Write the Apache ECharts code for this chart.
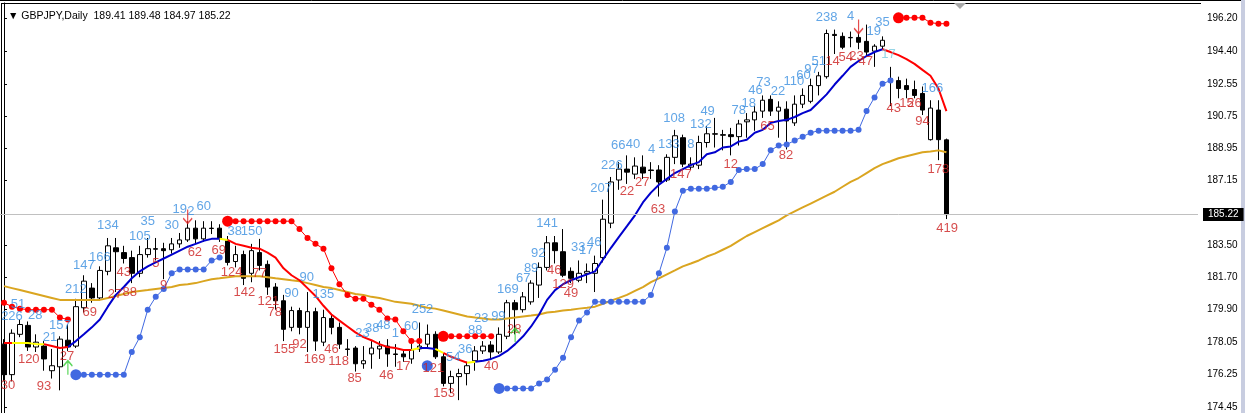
<!DOCTYPE html>
<html>
<head>
<meta charset="utf-8">
<script src="https://cdn.jsdelivr.net/npm/echarts@6/dist/echarts.min.js"></script>
<style>
html,body{margin:0;padding:0;background:#fff;}
#chart{width:1245px;height:413px;}
</style>
</head>
<body>
<div id="chart"></div>
<script>
var symbolName = 'GBPJPY,Daily';
var lastBar = [189.41, 189.48, 184.97, 185.22]; // O H L C of the last bar
var bidPrice = 185.22;
var slotCount = 150; // bar slots visible in the window
var priceTicks = [196.20, 194.40, 192.55, 190.75, 188.95, 187.15, 183.50, 181.70, 179.90, 178.05, 176.25, 174.45];

// open, close, low, high
var ohlc = [
  [177.96,176.25,175.87,178.24],[176.25,178.57,175.87,178.79],[178.51,179.06,178.35,179.34],[179.01,177.80,177.58,179.23],
  [177.80,178.07,177.52,178.51],[177.85,177.13,176.47,178.13],[176.47,176.75,176.03,177.69],[176.69,178.24,175.37,178.40],
  [178.18,177.80,177.58,179.06],[177.85,180.06,177.74,180.50],[180.00,181.49,179.73,181.82],[181.10,180.55,180.28,181.38],
  [180.55,182.09,180.39,182.32],[182.04,183.47,181.82,183.91],[183.36,183.14,180.88,183.91],[183.09,182.76,182.48,183.47],
  [182.81,181.93,181.38,183.20],[181.93,182.98,181.71,183.47],[182.98,183.31,182.81,183.91],[183.31,183.28,182.65,183.91],
  [183.31,183.20,181.60,183.64],[183.25,183.58,183.03,183.91],[183.58,183.80,183.36,184.19],[183.80,184.46,183.69,184.85],
  [184.46,183.86,183.58,184.90],[183.86,184.46,183.69,184.85],[184.46,184.44,184.13,184.85],[184.46,183.91,183.69,184.68],
  [183.75,182.54,182.37,184.02],[182.59,182.98,182.26,183.47],[182.98,181.65,181.27,183.20],[181.93,183.20,181.43,183.58],
  [183.09,182.37,182.09,183.86],[182.43,181.16,180.72,182.65],[181.16,180.39,179.89,181.38],[180.39,178.79,178.13,180.72],
  [178.90,179.84,178.68,180.06],[179.84,178.90,178.51,180.00],[178.90,179.78,177.52,180.88],[179.78,178.13,177.58,180.00],
  [178.07,179.45,177.85,179.89],[179.40,178.90,178.51,179.62],[178.90,177.96,177.69,179.17],[177.69,177.66,177.30,178.24],
  [177.74,176.86,176.42,177.85],[176.86,177.03,176.58,177.85],[177.41,177.74,176.58,178.13],[177.69,177.85,177.13,178.13],
  [177.85,177.41,176.69,178.24],[177.41,177.38,176.69,177.96],[177.41,177.25,176.97,177.58],[177.13,177.63,176.86,178.07],
  [177.69,177.85,177.52,179.17],[177.96,178.51,177.80,179.06],[178.51,177.25,177.13,178.68],[177.25,175.76,175.59,177.41],
  [175.76,176.14,175.21,176.47],[176.14,176.31,174.82,176.58],[176.31,176.75,175.65,176.97],[177.03,177.58,176.47,177.85],
  [177.58,177.85,177.41,178.13],[177.91,177.52,177.13,178.13],[177.52,178.51,177.41,178.90],[178.40,180.28,178.24,180.44],
  [180.28,179.89,178.51,180.44],[179.89,180.61,179.73,180.88],[180.33,181.38,180.17,181.54],[181.27,182.26,180.55,182.54],
  [182.26,183.64,182.09,184.02],[183.64,183.20,182.48,184.02],[183.14,181.82,181.71,184.41],[182.04,181.65,181.38,182.26],
  [181.54,181.93,181.43,182.65],[181.93,182.04,181.38,182.48],[181.93,182.48,180.88,182.92],[182.81,184.96,182.54,186.06],
  [184.74,187.05,184.46,187.33],[187.16,187.77,186.61,188.16],[187.77,187.60,186.94,188.54],[187.49,187.94,187.22,188.43],
  [187.88,187.55,187.22,188.54],[187.72,187.69,187.22,188.16],[187.72,187.05,186.23,187.99],[187.16,188.43,187.05,188.60],
  [188.43,189.64,188.05,189.97],[189.53,188.05,187.88,189.70],[187.88,188.05,187.72,188.43],[187.99,189.26,187.77,189.64],
  [189.26,189.75,188.98,190.19],[189.75,189.73,188.98,190.64],[189.70,189.67,188.82,189.97],[189.70,189.59,188.54,190.08],
  [189.59,190.30,189.09,190.53],[190.42,190.53,189.53,190.91],[190.53,190.97,189.92,191.30],[191.02,191.63,190.64,191.90],
  [191.68,191.02,190.75,191.90],[191.02,191.24,189.53,191.57],[191.13,190.47,188.87,191.57],[190.36,191.41,190.19,191.90],
  [191.41,191.90,191.19,192.29],[191.57,192.45,191.46,192.84],[192.45,193.00,191.90,193.22],[192.95,195.37,192.84,195.59],
  [195.32,195.26,194.22,195.59],[195.21,194.60,194.49,195.43],[195.15,195.13,194.60,195.48],[195.15,194.88,194.49,195.43],
  [194.93,194.33,194.05,195.87],[194.38,194.66,193.50,194.77],[194.66,194.99,194.49,195.21],[192.67,192.84,191.30,193.50],
  [192.73,192.29,191.74,192.95],[192.45,192.23,191.74,192.84],[192.23,191.90,191.74,192.73],[192.01,191.08,190.80,192.40],
  [189.42,191.19,189.37,191.63],[191.08,189.42,188.27,191.63],[189.41,185.22,184.97,189.48]
];

// fast coloured average
var hma = [
  178.02,178.02,178.02,178.02,177.96,177.96,177.85,177.74,177.80,178.13,
  178.51,178.90,179.34,180.06,180.72,181.16,181.65,182.04,182.32,182.54,
  182.76,182.98,183.20,183.42,183.58,183.75,183.86,183.86,183.80,183.58,
  183.47,183.36,183.31,183.09,182.81,182.21,181.82,181.54,181.10,180.66,
  180.11,179.62,179.28,178.95,178.62,178.35,178.18,177.96,177.80,177.74,
  177.63,177.63,177.74,177.74,177.69,177.47,177.25,177.08,176.92,176.97,
  177.03,177.13,177.30,177.58,177.96,178.40,178.95,179.62,180.44,180.99,
  181.32,181.54,181.71,181.87,182.04,182.70,183.36,183.97,184.57,185.18,
  185.90,186.45,186.89,187.22,187.55,187.77,187.99,188.16,188.60,188.71,
  188.98,189.04,189.31,189.42,189.81,189.97,190.36,190.47,190.53,190.69,
  190.91,191.08,191.52,191.96,192.51,193.00,193.50,193.83,194.11,194.33,
  194.49,194.33,194.16,193.94,193.67,193.33,193.00,192.29,191.02
];
// [fromBar, toBar, colour key]
var hmaSegments = [
  [0,1,'r'],[1,5,'y'],[5,8,'r'],[8,27,'b'],[27,28,'y'],[28,51,'r'],[51,52,'y'],
  [52,54,'b'],[54,55,'y'],[55,58,'r'],[58,59,'y'],[59,110,'b'],[110,118,'r']
];

// slow average
var sma = [
  181.21,181.10,180.99,180.88,180.77,180.66,180.55,180.44,180.44,180.44,
  180.44,180.44,180.44,180.55,180.66,180.77,180.88,180.94,180.99,181.05,
  181.10,181.16,181.27,181.32,181.38,181.49,181.60,181.65,181.71,181.76,
  181.76,181.76,181.76,181.71,181.65,181.60,181.54,181.49,181.38,181.27,
  181.16,181.10,180.99,180.88,180.77,180.72,180.61,180.55,180.44,180.33,
  180.28,180.22,180.11,180.00,179.95,179.84,179.73,179.62,179.51,179.45,
  179.40,179.34,179.34,179.40,179.45,179.51,179.56,179.62,179.73,179.78,
  179.84,179.89,179.95,180.00,180.06,180.22,180.39,180.55,180.72,180.94,
  181.16,181.43,181.65,181.87,182.09,182.32,182.48,182.65,182.87,183.03,
  183.25,183.47,183.75,184.02,184.24,184.46,184.68,184.90,185.18,185.40,
  185.62,185.84,186.06,186.28,186.50,186.78,187.05,187.27,187.55,187.82,
  188.05,188.21,188.38,188.49,188.60,188.71,188.76,188.82,188.71
];

// trailing stops: start bar of each run, then its values
var upStopStarts = [9, 53, 62];
var upStopRuns = [
  [176.25,176.25,176.25,176.25,176.25,176.25,176.25,177.52,178.35,179.89,180.61,181.05,181.93,182.15,182.15,182.15,182.15,182.65,182.81],
  [176.75],
  [175.48,175.48,175.48,175.48,175.48,175.76,175.98,176.53,177.19,178.35,179.28,179.73,180.33,180.33,180.33,180.33,180.33,180.33,180.33,
   180.72,181.93,183.36,185.40,186.56,186.67,186.67,186.67,186.72,186.78,187.05,187.72,187.77,187.77,188.05,188.82,189.09,189.15,189.37,
   189.59,189.81,189.92,189.92,189.92,189.92,189.92,189.97,191.02,191.79,192.56,192.73]
];
var downStopStarts = [0, 28, 55, 112];
var downStopRuns = [
  [180.28,180.06,179.95,179.89,179.89,179.89,179.89,179.45,179.34],
  [184.85,184.85,184.85,184.85,184.85,184.85,184.85,184.85,184.85,184.41,183.91,183.58,183.31,182.21,181.32,180.72,180.50,180.50,180.17,179.89,179.40,179.34,178.68,178.13,178.13],
  [178.40,178.40,178.40,178.40,178.40,178.40,178.40],
  [196.25,196.25,196.25,196.25,195.98,195.92,195.92]
];
var downStopVisibleStart = [false, true, true, true];

var buyArrows = [[8, 176.64], [64, 178.46]];
var sellArrows = [[23, 185.12], [107, 195.76]];

// [bar position, price, text]
var upLabels = [
  [1.0,179.50,'226'],[1.75,180.17,'51'],[3.9,179.56,'28'],[5.75,178.35,'21'],[7.0,179.01,'157'],[9.0,181.05,'212'],
  [10.0,182.37,'147'],[12.0,182.81,'166'],[13.0,184.63,'134'],[17.0,184.02,'105'],[18.0,184.85,'35'],[21.0,184.63,'30'],
  [22.0,185.51,'19'],[23.4,185.40,'2'],[25.0,185.68,'60'],[28.9,184.30,'38'],[31.0,184.30,'150'],[36.0,180.83,'90'],
  [37.9,181.71,'90'],[40.0,180.72,'135'],[44.9,178.57,'23'],[46.1,178.84,'38'],[47.5,179.01,'48'],[49.0,178.57,'1'],
  [51.0,178.95,'60'],[52.4,179.89,'252'],[56.25,177.19,'54'],[57.75,177.69,'36'],[59.0,178.73,'88'],[59.75,179.40,'23'],
  [61.9,179.51,'99'],[63.1,181.00,'169'],[65.0,181.65,'67'],[66.0,182.20,'89'],[66.9,183.03,'92'],[68.0,184.74,'141'],
  [71.9,183.36,'33'],[72.9,183.20,'17'],[73.9,183.64,'46'],[74.75,186.67,'207'],[76.1,187.99,'226'],[76.9,189.09,'66'],
  [78.75,189.15,'40'],[81.1,188.87,'4'],[83.25,189.15,'133'],[83.9,190.63,'108'],[86.0,189.15,'8'],[87.25,190.25,'132'],
  [88.1,191.02,'49'],[92.0,191.08,'78'],[93.25,191.46,'18'],[94.1,192.18,'46'],[95.1,192.62,'73'],[96.9,192.12,'22'],
  [98.9,192.67,'110'],[100.1,193.00,'60'],[101.1,193.34,'97'],[102.0,193.83,'51'],[103.0,196.25,'238'],[106.0,196.31,'4'],
  [108.9,195.48,'19'],[110.0,195.98,'35'],[116.25,192.29,'166']
];
var flatLabels = [[110.75,194.22,'17']];
var downLabels = [
  [0.5,175.65,'30'],[3.1,177.13,'120'],[5.0,175.59,'93'],[7.9,177.25,'27'],[10.75,179.73,'69'],[13.9,180.72,'27'],
  [15.0,181.98,'43'],[15.75,180.88,'88'],[19.0,182.48,'5'],[20.0,181.27,'9'],[23.9,183.09,'62'],[26.9,183.20,'69'],
  [28.5,181.98,'124'],[30.1,180.88,'142'],[32.0,181.93,'77'],[33.1,180.33,'121'],[33.9,179.73,'78'],[35.1,177.69,'155'],
  [37.0,177.96,'92'],[38.9,177.13,'169'],[41.0,177.69,'46'],[41.9,176.97,'118'],[43.9,176.03,'85'],[47.9,176.20,'46'],
  [50.0,176.69,'17'],[53.75,176.58,'121'],[55.1,175.21,'153'],[61.0,176.69,'40'],[63.9,178.79,'28'],[68.9,182.09,'46'],
  [70.0,181.32,'129'],[71.0,180.83,'49'],[78.0,186.50,'22'],[79.9,187.05,'27'],[81.9,185.51,'63'],[84.75,187.49,'147'],
  [91.0,188.05,'12'],[95.6,190.19,'65'],[97.9,188.54,'82'],[103.75,193.83,'14'],[105.4,194.05,'54'],[106.75,194.11,'23'],
  [107.9,193.78,'47'],[111.4,191.19,'43'],[113.0,191.46,'15'],[114.0,191.46,'26'],[115.0,190.47,'94'],[117.0,187.77,'178'],
  [118.1,184.46,'419']
];

var font = 'Liberation Sans, Arial, sans-serif';
var colorKeys = {r: '#ff0000', y: '#ffff00', b: '#0000cd'};

var slots = [];
for (var i = 0; i < slotCount; i++) slots.push(String(i));

function hmaPart(key) {//one colour piece of the average
  var d = [];
  for (var i = 0; i < hma.length; i++) d.push(null);
  hmaSegments.forEach(function (s) {
    if (s[2] != key) return;
    for (var j = s[0]; j <= s[1]; j++) d[j] = hma[j];
  });
  return d;
}

function stopLine(starts, runs, bigFirst) {
  var d = [];
  for (var i = 0; i < ohlc.length; i++) d.push(null);
  starts.forEach(function (st, k) {
    runs[k].forEach(function (v, j) {
      if (j == 0 && (!bigFirst || bigFirst[k])) {
        d[st + j] = {value: v, symbolSize: 11};
      } else {
        d[st + j] = v;
      }
    });
  });
  return d;
}

function textSeries(list, color) {
  return {
    type: 'scatter', xAxisIndex: 1, yAxisIndex: 0, silent: true,
    symbolSize: 1, itemStyle: {color: 'rgba(0,0,0,0)'},
    data: list,
    label: {
      show: true, position: 'inside', color: color, fontSize: 13, fontFamily: font,
      formatter: function (p) { return p.value[2]; }
    },
    z: 6
  };
}

var chart = echarts.init(document.getElementById('chart'));
chart.setOption({
  animation: false,
  backgroundColor: '#fff',
  title: {
    text: '\u25BC ' + symbolName + '  ' + lastBar.map(function (v) { return v.toFixed(2); }).join(' '),
    left: 3, top: 6,
    textStyle: {fontSize: 10.5, fontWeight: 'normal', color: '#000', fontFamily: font}
  },
  grid: {left: -2, right: 47, top: 3, bottom: -7},
  xAxis: [
    {type: 'category', data: slots, boundaryGap: true, show: false},
    {type: 'value', min: -0.5, max: slotCount - 0.5, show: false}
  ],
  yAxis: {
    type: 'value', position: 'right', offset: 3, min: 174.10, max: 197.08, scale: true,
    splitLine: {show: false},
    axisLine: {show: true, lineStyle: {color: '#000', width: 1}},
    axisTick: {show: true, length: 3, customValues: priceTicks, lineStyle: {color: '#000'}},
    axisLabel: {
      customValues: priceTicks, color: '#000', fontSize: 10, fontFamily: font, margin: 6,
      formatter: function (v) { return v.toFixed(2); }
    }
  },
  graphic: [
    {type: 'line', shape: {x1: 0, y1: 0.5, x2: 1245, y2: 0.5}, style: {stroke: '#000'}},
    {type: 'line', shape: {x1: 1, y1: 3.5, x2: 1201, y2: 3.5}, style: {stroke: '#000'}},
    {type: 'line', shape: {x1: 1.5, y1: 3, x2: 1.5, y2: 413}, style: {stroke: '#000'}},
    {type: 'rect', shape: {x: 1241, y: 0, width: 4, height: 413}, style: {fill: '#c8cde0'}},
    {type: 'polygon', shape: {points: [[954, 3], [966, 3], [960, 9]]}, style: {fill: '#a8a8a8'}}
  ],
  series: [
    {
      type: 'candlestick', data: ohlc, barWidth: 5,
      itemStyle: {color: '#fff', color0: '#000', borderColor: '#000', borderColor0: '#000', borderWidth: 1},
      markLine: {
        silent: true, symbol: 'none', animation: false,
        data: [{yAxis: bidPrice}],
        lineStyle: {color: '#c0c0c0', type: 'solid', width: 1},
        label: {
          position: 'end', formatter: bidPrice.toFixed(2), distance: 5,
          backgroundColor: '#000', color: '#fff', fontSize: 10, fontFamily: font, padding: [2, 5, 1, 5]
        }
      },
      z: 2
    },
    {type: 'line', data: sma, showSymbol: false, lineStyle: {color: '#daa520', width: 2}, z: 3},
    {type: 'line', data: hmaPart('b'), showSymbol: false, lineStyle: {color: colorKeys.b, width: 2}, z: 4},
    {type: 'line', data: hmaPart('r'), showSymbol: false, lineStyle: {color: colorKeys.r, width: 2}, z: 4},
    {type: 'line', data: hmaPart('y'), showSymbol: false, lineStyle: {color: colorKeys.y, width: 2}, z: 4},
    {
      type: 'line', data: stopLine(upStopStarts, upStopRuns), symbol: 'circle', symbolSize: 6,
      showSymbol: true, showAllSymbol: true,
      itemStyle: {color: '#4169e1'}, lineStyle: {color: '#4169e1', width: 1}, z: 5
    },
    {
      type: 'line', data: stopLine(downStopStarts, downStopRuns, downStopVisibleStart), symbol: 'circle', symbolSize: 6,
      showSymbol: true, showAllSymbol: true,
      itemStyle: {color: '#ff0000'}, lineStyle: {color: '#ff0000', width: 1}, z: 5
    },
    {
      type: 'scatter', data: buyArrows, symbol: 'path://M5,0L5,16M0,6L5,0L10,6', symbolSize: [9, 14],
      itemStyle: {color: 'rgba(0,0,0,0)', borderColor: '#32cd32', borderWidth: 1.5}, z: 7
    },
    {
      type: 'scatter', data: sellArrows, symbol: 'path://M5,16L5,0M0,10L5,16L10,10', symbolSize: [9, 14],
      itemStyle: {color: 'rgba(0,0,0,0)', borderColor: '#e02020', borderWidth: 1.5}, z: 7
    },
    textSeries(upLabels, '#3a8fe0'),
    textSeries(flatLabels, '#7ccbe0'),
    textSeries(downLabels, '#cc1f1f')
  ]
});
</script>
</body>
</html>
